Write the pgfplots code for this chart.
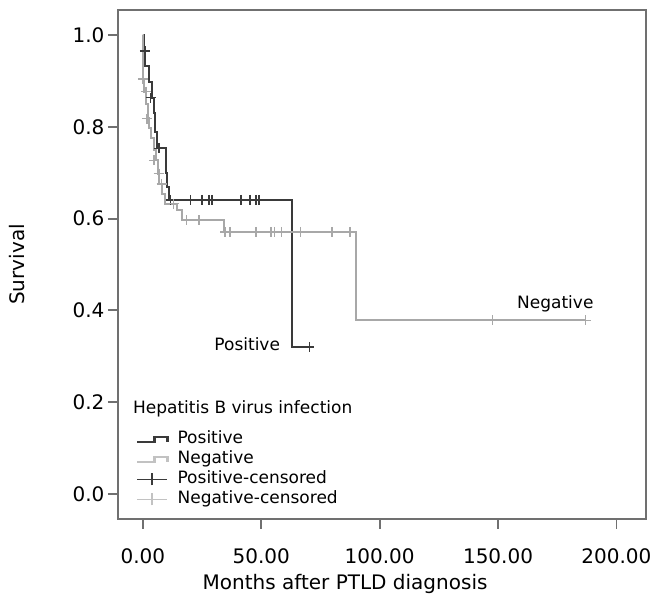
\documentclass[border=0pt]{standalone}
\usepackage{fontspec}
\setmainfont{DejaVu Sans}
\usepackage{pgfplots}
\pgfplotsset{compat=1.18}

\definecolor{framegray}{HTML}{707070}
\definecolor{posline}{HTML}{3A3A3A}
\definecolor{negline}{HTML}{A8A8A8}

\newcommand{\ticksize}{\fontsize{20}{24}\selectfont}
\newcommand{\legsize}{\fontsize{17}{20}\selectfont}

\begin{document}
\begin{tikzpicture}
\begin{axis}[
    scale only axis,
    width=528pt, height=509pt,
    xmin=-10.5, xmax=212.5,
    ymin=-0.055, ymax=1.055,
    axis line style={draw=framegray, line width=1.8pt},
    tick style={draw=framegray, line width=1.8pt},
    tick align=outside,
    major tick length=10pt,
    xtick pos=lower, ytick pos=left,
    xtick={0,50,100,150,200},
    xticklabels={0.00,50.00,100.00,150.00,200.00},
    ytick={0,0.2,0.4,0.6,0.8,1},
    yticklabels={0.0,0.2,0.4,0.6,0.8,1.0},
    ticklabel style={font=\ticksize},
    xticklabel style={yshift=-16pt},
    xlabel={Months after PTLD diagnosis},
    ylabel={Survival},
    label style={font=\ticksize},
    xlabel style={at={(axis description cs:0.43,0)}, anchor=north, yshift=-52pt},
    ylabel style={at={(axis description cs:0,0.5)}, anchor=south, yshift=90pt},
    legend style={draw=none, fill=none, inner sep=0pt, outer sep=0pt,
        at={(axis cs:-2.9,0.137)}, anchor=north west,
        font=\legsize, row sep=3pt, column sep=9pt,
        nodes={inner sep=0pt, text height=13pt, text depth=4pt}},
    legend cell align=left,
]
% Positive (step curve)
\addplot[posline, line width=2pt, const plot,
    legend image code/.code={\draw[posline, line width=2.6pt] (0pt,-2.5pt) -- (17pt,-2.5pt) -- (17pt,2.5pt) -- (30pt,2.5pt) -- (30pt,-2.5pt);}]
coordinates {
(0,1.0) (0.5,0.965) (1.0,0.932) (2.5,0.898) (3.8,0.864) (4.6,0.83)
(5.0,0.79) (5.9,0.753) (9.6,0.70) (10.4,0.668) (10.9,0.641)
(62.8,0.32) (70.5,0.32)
};
\addlegendentry{Positive}
% Negative (step curve)
\addplot[negline, line width=2pt, const plot,
    legend image code/.code={\draw[negline!70, line width=2.6pt] (0pt,-2.5pt) -- (17pt,-2.5pt) -- (17pt,2.5pt) -- (30pt,2.5pt) -- (30pt,-2.5pt);}]
coordinates {
(0,1.0) (0.2,0.905) (0.6,0.877) (1.2,0.85) (2.0,0.82) (2.6,0.797)
(3.4,0.775) (4.6,0.75) (5.4,0.727) (6.2,0.698) (7.0,0.676) (8.0,0.654)
(9.5,0.633) (14.5,0.619) (16.5,0.597) (34.3,0.571) (90.0,0.378) (187.0,0.378)
};
\addlegendentry{Negative}
% Positive censored
\addplot[only marks, mark=+, mark size=5pt, mark options={posline, line width=1.6pt},
    legend image code/.code={\draw[posline, line width=1.8pt] (0pt,0pt) -- (30pt,0pt); \draw[posline, line width=1.8pt] (15pt,-6pt) -- (15pt,6pt);}]
coordinates {
(0.8,0.965) (3.3,0.864) (6.7,0.753) (11.7,0.641)
(20.1,0.641) (25.1,0.641) (28.0,0.641) (29.3,0.641)
(41.4,0.641) (45.2,0.641) (47.7,0.641) (49.0,0.641)
(70.3,0.32)
};
\addlegendentry{Positive-censored}
% Negative censored
\addplot[only marks, mark=+, mark size=5pt, mark options={negline, line width=1.6pt},
    legend image code/.code={\draw[negline!70, line width=1.8pt] (0pt,0pt) -- (30pt,0pt); \draw[negline!70, line width=1.8pt] (15pt,-6pt) -- (15pt,6pt);}]
coordinates {
(0,0.905) (1.3,0.877) (1.7,0.818) (4.6,0.727) (6.7,0.698) (7.9,0.676)
(13.0,0.633) (18.4,0.597) (23.8,0.597)
(34.7,0.571) (36.8,0.571) (47.7,0.571) (54.0,0.571) (55.6,0.571)
(58.6,0.571) (66.5,0.571) (80.0,0.571) (87.4,0.571)
(147.7,0.378) (187.0,0.378)
};
\addlegendentry{Negative-censored}

\node[anchor=east, font=\legsize, inner sep=0pt] at (axis cs:58.0,0.326) {Positive};
\node[anchor=west, font=\legsize, inner sep=0pt] at (axis cs:158.0,0.414) {Negative};
\node[anchor=west, font=\legsize, inner sep=0pt] at (axis cs:-4.2,0.186) {Hepatitis B virus infection};
\end{axis}
\pgfresetboundingbox
\path[use as bounding box] ([xshift=-118pt,yshift=-77pt]current axis.south west) rectangle ([xshift=7pt,yshift=10pt]current axis.north east);
\end{tikzpicture}
\end{document}
